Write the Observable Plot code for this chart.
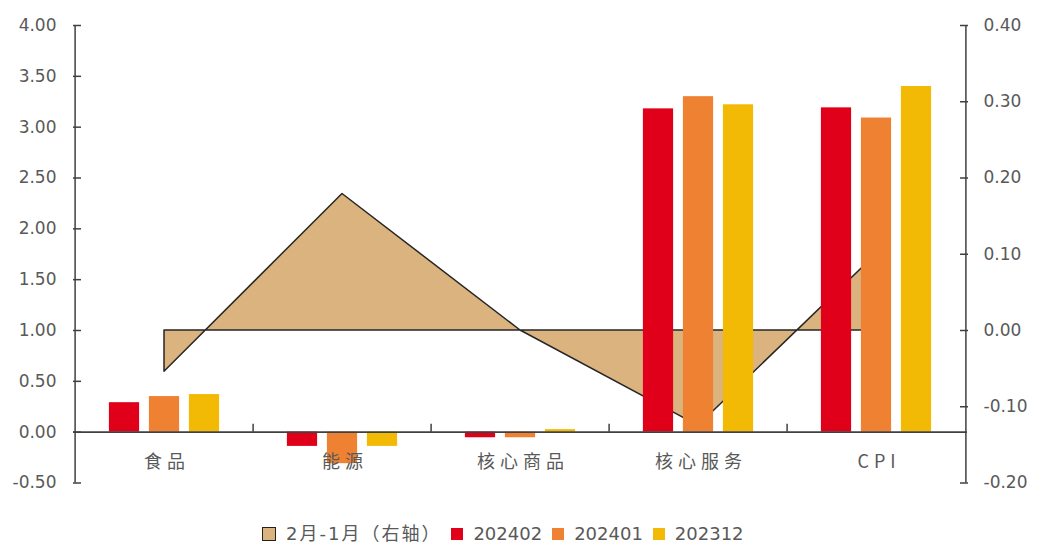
<!DOCTYPE html>
<html><head><meta charset="utf-8">
<script src="https://cdn.jsdelivr.net/npm/d3@7"></script>
<script src="https://cdn.jsdelivr.net/npm/@observablehq/plot@0.6"></script>
<style>
body{margin:0;background:#fff;width:1061px;height:545px;overflow:hidden;position:relative;font-family:"DejaVu Sans","Noto Sans CJK SC",sans-serif}
#chart{position:absolute;left:0;top:0}
#legend{position:absolute;left:262px;top:523px;height:22px;display:flex;align-items:center;font-size:18px;color:#595959;white-space:nowrap}
.sw{width:12px;height:12px;margin-right:10px;box-sizing:border-box}
.lab{margin-right:10px;line-height:22px}
</style></head><body><div id="chart"></div><div id="legend"></div>
<script>
// ---- data ----
const categories = ["食品", "能源", "核心商品", "核心服务", "CPI"];
const seriesNames = ["202402", "202401", "202312"];
const v202402 = [0.29, -0.14, -0.055, 3.18, 3.19];
const v202401 = [0.35, -0.31, -0.055, 3.30, 3.09];
const v202312 = [0.37, -0.14, 0.025, 3.22, 3.40];
const diffRight = [-0.054, 0.179, 0.0, -0.125, 0.10]; // 2月-1月（右轴）
const leftTicks = [-0.5, 0, 0.5, 1, 1.5, 2, 2.5, 3, 3.5, 4];
const rightTicks = [-0.2, -0.1, 0, 0.1, 0.2, 0.3, 0.4];
const areaLabel = "2月-1月（右轴）";

// ---- styles ----
const colors = ["#E1001A", "#EE8232", "#F2BA05"];
const areaFill = "#DBB37E";
const textColor = "#595959";
const axisColor = "#404040";

const W = 1061, H = 505, mL = 73, mR = 94, mT = 25, mB = 22.5;
const bw = (W - mL - mR) / categories.length;
const barW = 31, barStep = 40;
const inset = (bw - barW) / 2;
const leftDom = [leftTicks[0], leftTicks[leftTicks.length - 1]];
const rightDom = [rightTicks[0], rightTicks[rightTicks.length - 1]];
const toLeft = r => leftDom[0] + (r - rightDom[0]) / (rightDom[1] - rightDom[0]) * (leftDom[1] - leftDom[0]);
const pxPerUnit = (H - mT - mB) / (leftDom[1] - leftDom[0]);

const seriesVals = [v202402, v202401, v202312];
const barMarks = seriesVals.map((vals, i) =>
  Plot.barY(categories.map((c, j) => ({cat: c, v: vals[j]})), {
    x: "cat", y: "v", fill: colors[i], insetLeft: inset, insetRight: inset,
    dx: (i - 1) * barStep
  })
);
const areaData = categories.map((c, j) => ({cat: c, r: diffRight[j]}));

const chart = Plot.plot({
  width: W, height: H,
  marginLeft: mL, marginRight: mR, marginTop: mT, marginBottom: mB,
  style: {fontFamily: '"DejaVu Sans","Noto Sans CJK SC",sans-serif', fontSize: "17px", color: textColor, background: "#fff"},
  x: {type: "band", domain: categories, padding: 0, axis: null},
  y: {domain: leftDom, axis: null},
  marks: [
    Plot.areaY(areaData, {x: "cat", y1: () => toLeft(0), y2: d => toLeft(d.r), fill: areaFill, stroke: "#262626", strokeWidth: 1.5}),
    ...barMarks,
    Plot.ruleY([0], {stroke: axisColor, strokeWidth: 1.6}),
    Plot.ruleX(categories.slice(1), {x: d => d, y1: 0, y2: 8 / pxPerUnit, dx: -bw / 2, stroke: axisColor, strokeWidth: 1.5}),
    Plot.ruleX([categories[0]], {x: d => d, y1: leftDom[0], y2: leftDom[1], dx: -bw / 2, stroke: axisColor, strokeWidth: 1.5}),
    Plot.ruleX([categories[categories.length - 1]], {x: d => d, y1: leftDom[0], y2: leftDom[1], dx: bw / 2, stroke: axisColor, strokeWidth: 1.5}),
    Plot.axisY(leftTicks, {anchor: "left", label: null, tickSize: 8, dx: 8, tickPadding: 17, stroke: axisColor, strokeWidth: 1.5, fill: textColor, fontSize: 17, tickFormat: d => d.toFixed(2)}),
    Plot.axisY(rightTicks.map(toLeft), {anchor: "right", label: null, tickSize: 8, dx: -8, tickPadding: 16, stroke: axisColor, strokeWidth: 1.5, fill: textColor, fontSize: 17,
      tickFormat: d => {const r = rightDom[0] + (d - leftDom[0]) / (leftDom[1] - leftDom[0]) * (rightDom[1] - rightDom[0]); return (Math.abs(r) < 1e-9 ? 0 : r).toFixed(2);}}),
    Plot.text(categories, {x: d => d, frameAnchor: "bottom", dy: -15, dx: 2.5, fontSize: 18, fill: textColor, fontFamily: '"Noto Sans CJK SC",sans-serif'})
  ]
});
chart.querySelectorAll('g[aria-label="text"] text').forEach(t => t.setAttribute("letter-spacing", "5"));
document.getElementById("chart").appendChild(chart);

// ---- legend ----
const legend = document.getElementById("legend");
function addItem(color, label, border, spacing) {
  const s = document.createElement("span");
  s.className = "sw";
  s.style.background = color;
  if (border) { s.style.border = "1.5px solid #222"; s.style.width = "14px"; s.style.height = "14px"; }
  const t = document.createElement("span");
  t.className = "lab";
  t.textContent = label;
  if (spacing) t.style.letterSpacing = spacing;
  legend.appendChild(s); legend.appendChild(t);
}
addItem(areaFill, areaLabel, true, "2px");
seriesNames.forEach((n, i) => addItem(colors[i], n, false));
</script></body></html>
